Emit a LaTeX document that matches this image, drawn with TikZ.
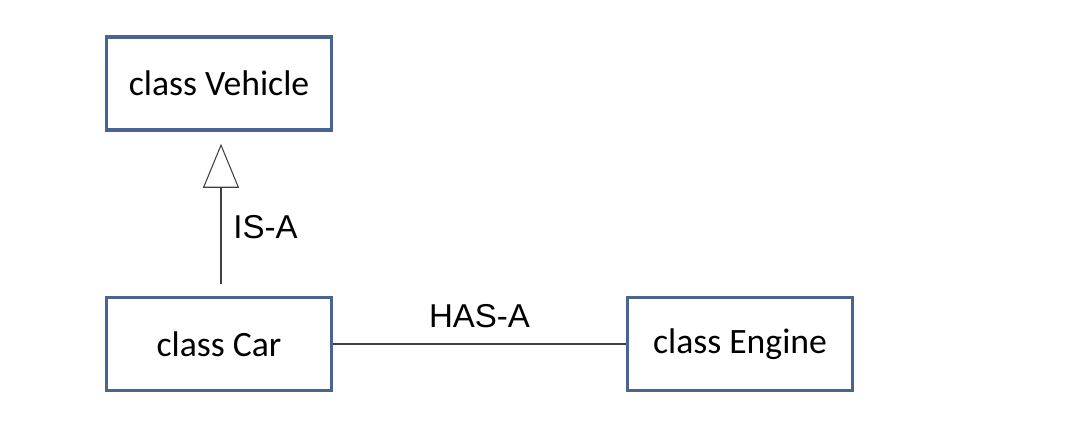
\documentclass[tikz,border=0pt]{standalone}
\usepackage{fontspec}
\setmainfont{Carlito}
\newfontfamily\labelfont{Liberation Sans}
\usetikzlibrary{positioning,arrows.meta}
\definecolor{boxblue}{HTML}{4A6491}

\begin{document}
\begin{tikzpicture}[node distance=5.21cm,on grid,auto,
    classbox/.style={draw=boxblue,line width=2pt,minimum width=4.5cm,minimum height=1.86cm,font=\fontsize{20.3}{24}\selectfont},
    rel/.style={draw=black!75,line width=0.6pt},
    rellabel/.style={font=\labelfont\fontsize{18.8}{22}\selectfont}]
	   \useasboundingbox (-4.38,1.67) rectangle (17.30,-7.21);
	   \node[classbox] (vehicle) {class Vehicle};
	   \node[classbox] (car) [below=of vehicle] {class Car};
	   \node[classbox] (engine) [right=10.42cm of car] {class Engine};
	    \draw[rel,-{Triangle[open,length=0.88cm,width=0.72cm]},shorten <=0.24cm,shorten >=0.24cm]
	    ([xshift=0.04cm]car.north) -- node[rellabel,right=0.12cm,pos=0.42,anchor=west] {IS-A} ([xshift=0.04cm]vehicle.south);
	    \draw[rel] (car) -- node[rellabel,above=0.56cm,anchor=center] {HAS-A} (engine);
	\end{tikzpicture}
\end{document}
